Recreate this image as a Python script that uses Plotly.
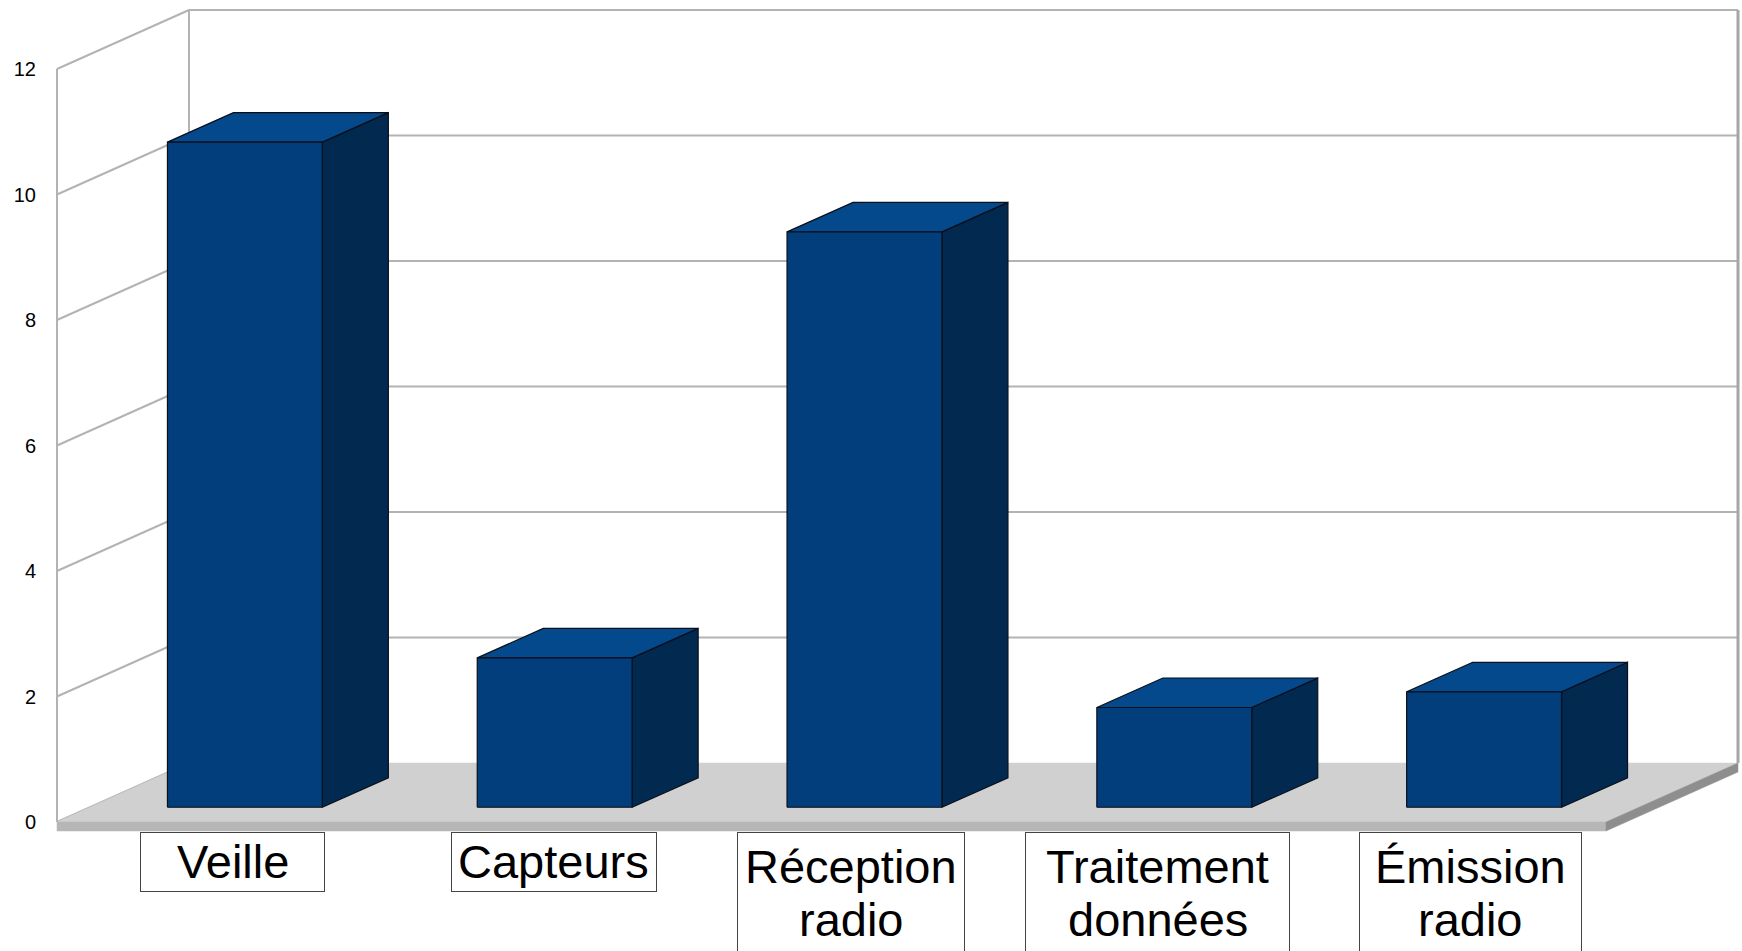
import plotly.graph_objects as go

# ---------------- data ----------------
categories = ["Veille", "Capteurs", "Réception radio", "Traitement données", "Émission radio"]
label_lines = [["Veille"], ["Capteurs"], ["Réception", "radio"], ["Traitement", "données"], ["Émission", "radio"]]
values = [10.6, 2.38, 9.17, 1.59, 1.84]
y_ticks = [0, 2, 4, 6, 8, 10, 12]
y_max = 12

# ---------------- 3D look parameters (layout / style) ----------------
W, H = 1742, 951
PX_X0 = 57.0          # pixel of x=0 (front left corner)
PX_PER_CAT = 309.8    # pixels per category
PY_Y0 = 822.0         # pixel of value 0 (front)
PX_PER_UNIT = 62.75   # pixels per value unit
ML = 37               # left margin for tick labels

DX = 132.0 / PX_PER_CAT   # depth offset in x units
DY = 59.0 / PX_PER_UNIT   # depth offset in value units
SLAB = 9.0 / PX_PER_UNIT  # floor thickness

n = len(categories)
x_range = [(ML - PX_X0) / PX_PER_CAT, (W - PX_X0) / PX_PER_CAT]
y_range = [(PY_Y0 - H) / PX_PER_UNIT, PY_Y0 / PX_PER_UNIT]


def P(x, v, d):
    return x + d * DX, v + d * DY


def poly(points):
    xs = [p[0] for p in points] + [points[0][0]]
    ys = [p[1] for p in points] + [points[0][1]]
    return xs, ys


def py_to_v(py):
    return (PY_Y0 - py) / PX_PER_UNIT


fig = go.Figure()

GRID = "#b3b3b3"

# ---- walls / grid ----
gx, gy = [], []
for v in y_ticks:
    a = P(0, v, 0); b = P(0, v, 1); c = P(n, v, 1)
    gx += [a[0], b[0], None]; gy += [a[1], b[1], None]
    if v > 0:
        gx += [b[0], c[0], None]; gy += [b[1], c[1], None]
for (x, d) in [(0, 0), (0, 1)]:
    a = P(x, 0, d); b = P(x, y_max, d)
    gx += [a[0], b[0], None]; gy += [a[1], b[1], None]
fig.add_trace(go.Scatter(x=gx, y=gy, mode="lines", line=dict(color=GRID, width=2),
                         hoverinfo="skip", showlegend=False))
a = P(n, 0, 1); b = P(n, y_max, 1)
fig.add_trace(go.Scatter(x=[a[0], b[0]], y=[a[1], b[1]], mode="lines",
                         line=dict(color="#a6a6a6", width=3), hoverinfo="skip", showlegend=False))

# ---- floor ----
top = [P(0, 0, 0), P(n, 0, 0), P(n, 0, 1), P(0, 0, 1)]
front_slab = [P(0, 0, 0), P(n, 0, 0), P(n, -SLAB, 0), P(0, -SLAB, 0)]
side_slab = [P(n, 0, 0), P(n, 0, 1), P(n, -SLAB, 1), P(n, -SLAB, 0)]
for pts, col in [(top, "#d0d0d0"), (front_slab, "#b6b6b6"), (side_slab, "#8e8e8e")]:
    xs, ys = poly(pts)
    fig.add_trace(go.Scatter(x=xs, y=ys, mode="lines", fill="toself", fillcolor=col,
                             line=dict(color=col, width=0.5), hoverinfo="skip", showlegend=False))

# ---- bars ----
FRONT, TOP, SIDE = "#013e7b", "#03498b", "#022a50"
EDGE = "#0a0f1a"
faces = {"side": ([], []), "top": ([], []), "front": ([], [])}
for i, h in enumerate(values):
    x0, x1 = i + 0.25, i + 0.75
    d0, d1 = 0.25, 0.75
    f = {
        "front": [P(x0, 0, d0), P(x1, 0, d0), P(x1, h, d0), P(x0, h, d0)],
        "side": [P(x1, 0, d0), P(x1, 0, d1), P(x1, h, d1), P(x1, h, d0)],
        "top": [P(x0, h, d0), P(x1, h, d0), P(x1, h, d1), P(x0, h, d1)],
    }
    for k, pts in f.items():
        xs, ys = poly(pts)
        faces[k][0].extend(xs + [None])
        faces[k][1].extend(ys + [None])
for k, col in [("side", SIDE), ("top", TOP), ("front", FRONT)]:
    fig.add_trace(go.Scatter(x=faces[k][0], y=faces[k][1], mode="lines", fill="toself",
                             fillcolor=col, line=dict(color=EDGE, width=1.2),
                             hoverinfo="skip", showlegend=False))

# ---- category labels (bordered boxes + text lines) ----
label_offsets = [0.0665, 0.1036, 0.0642, 0.0536, 0.061]
box_widths = [185, 206, 228, 265, 223]
LABEL_FONT = dict(family="Liberation Sans, Arial, sans-serif", size=47, color="black")
BOX_TOP_PX = 831.7
LINE_STEP_PX = 53.7
for i, lines in enumerate(label_lines):
    xc = i + 0.5 + label_offsets[i]
    box_h = 60 if len(lines) == 1 else 140
    first_center = 861.0 if len(lines) == 1 else 866.0
    fig.add_annotation(
        x=xc, y=py_to_v(BOX_TOP_PX), xref="x", yref="y", text=" ", showarrow=False,
        xanchor="center", yanchor="top", width=box_widths[i] - 2, height=box_h - 2,
        bordercolor="#444444", borderwidth=1, borderpad=0, bgcolor="white",
        font=dict(size=10),
    )
    for k, line in enumerate(lines):
        fig.add_annotation(
            x=xc, y=py_to_v(first_center + k * LINE_STEP_PX), xref="x", yref="y",
            text=line, showarrow=False, xanchor="center", yanchor="middle",
            font=LABEL_FONT,
        )

fig.update_layout(
    width=W, height=H,
    margin=dict(l=ML, r=0, t=0, b=0),
    paper_bgcolor="white", plot_bgcolor="white",
    xaxis=dict(range=x_range, visible=False, fixedrange=True),
    yaxis=dict(range=y_range, tickvals=y_ticks, ticktext=[str(t) for t in y_ticks],
               showgrid=False, zeroline=False, showline=False, ticks="",
               tickfont=dict(family="Liberation Sans, Arial, sans-serif", size=20, color="black"),
               fixedrange=True),
    showlegend=False,
)

fig.write_html("out.html")
